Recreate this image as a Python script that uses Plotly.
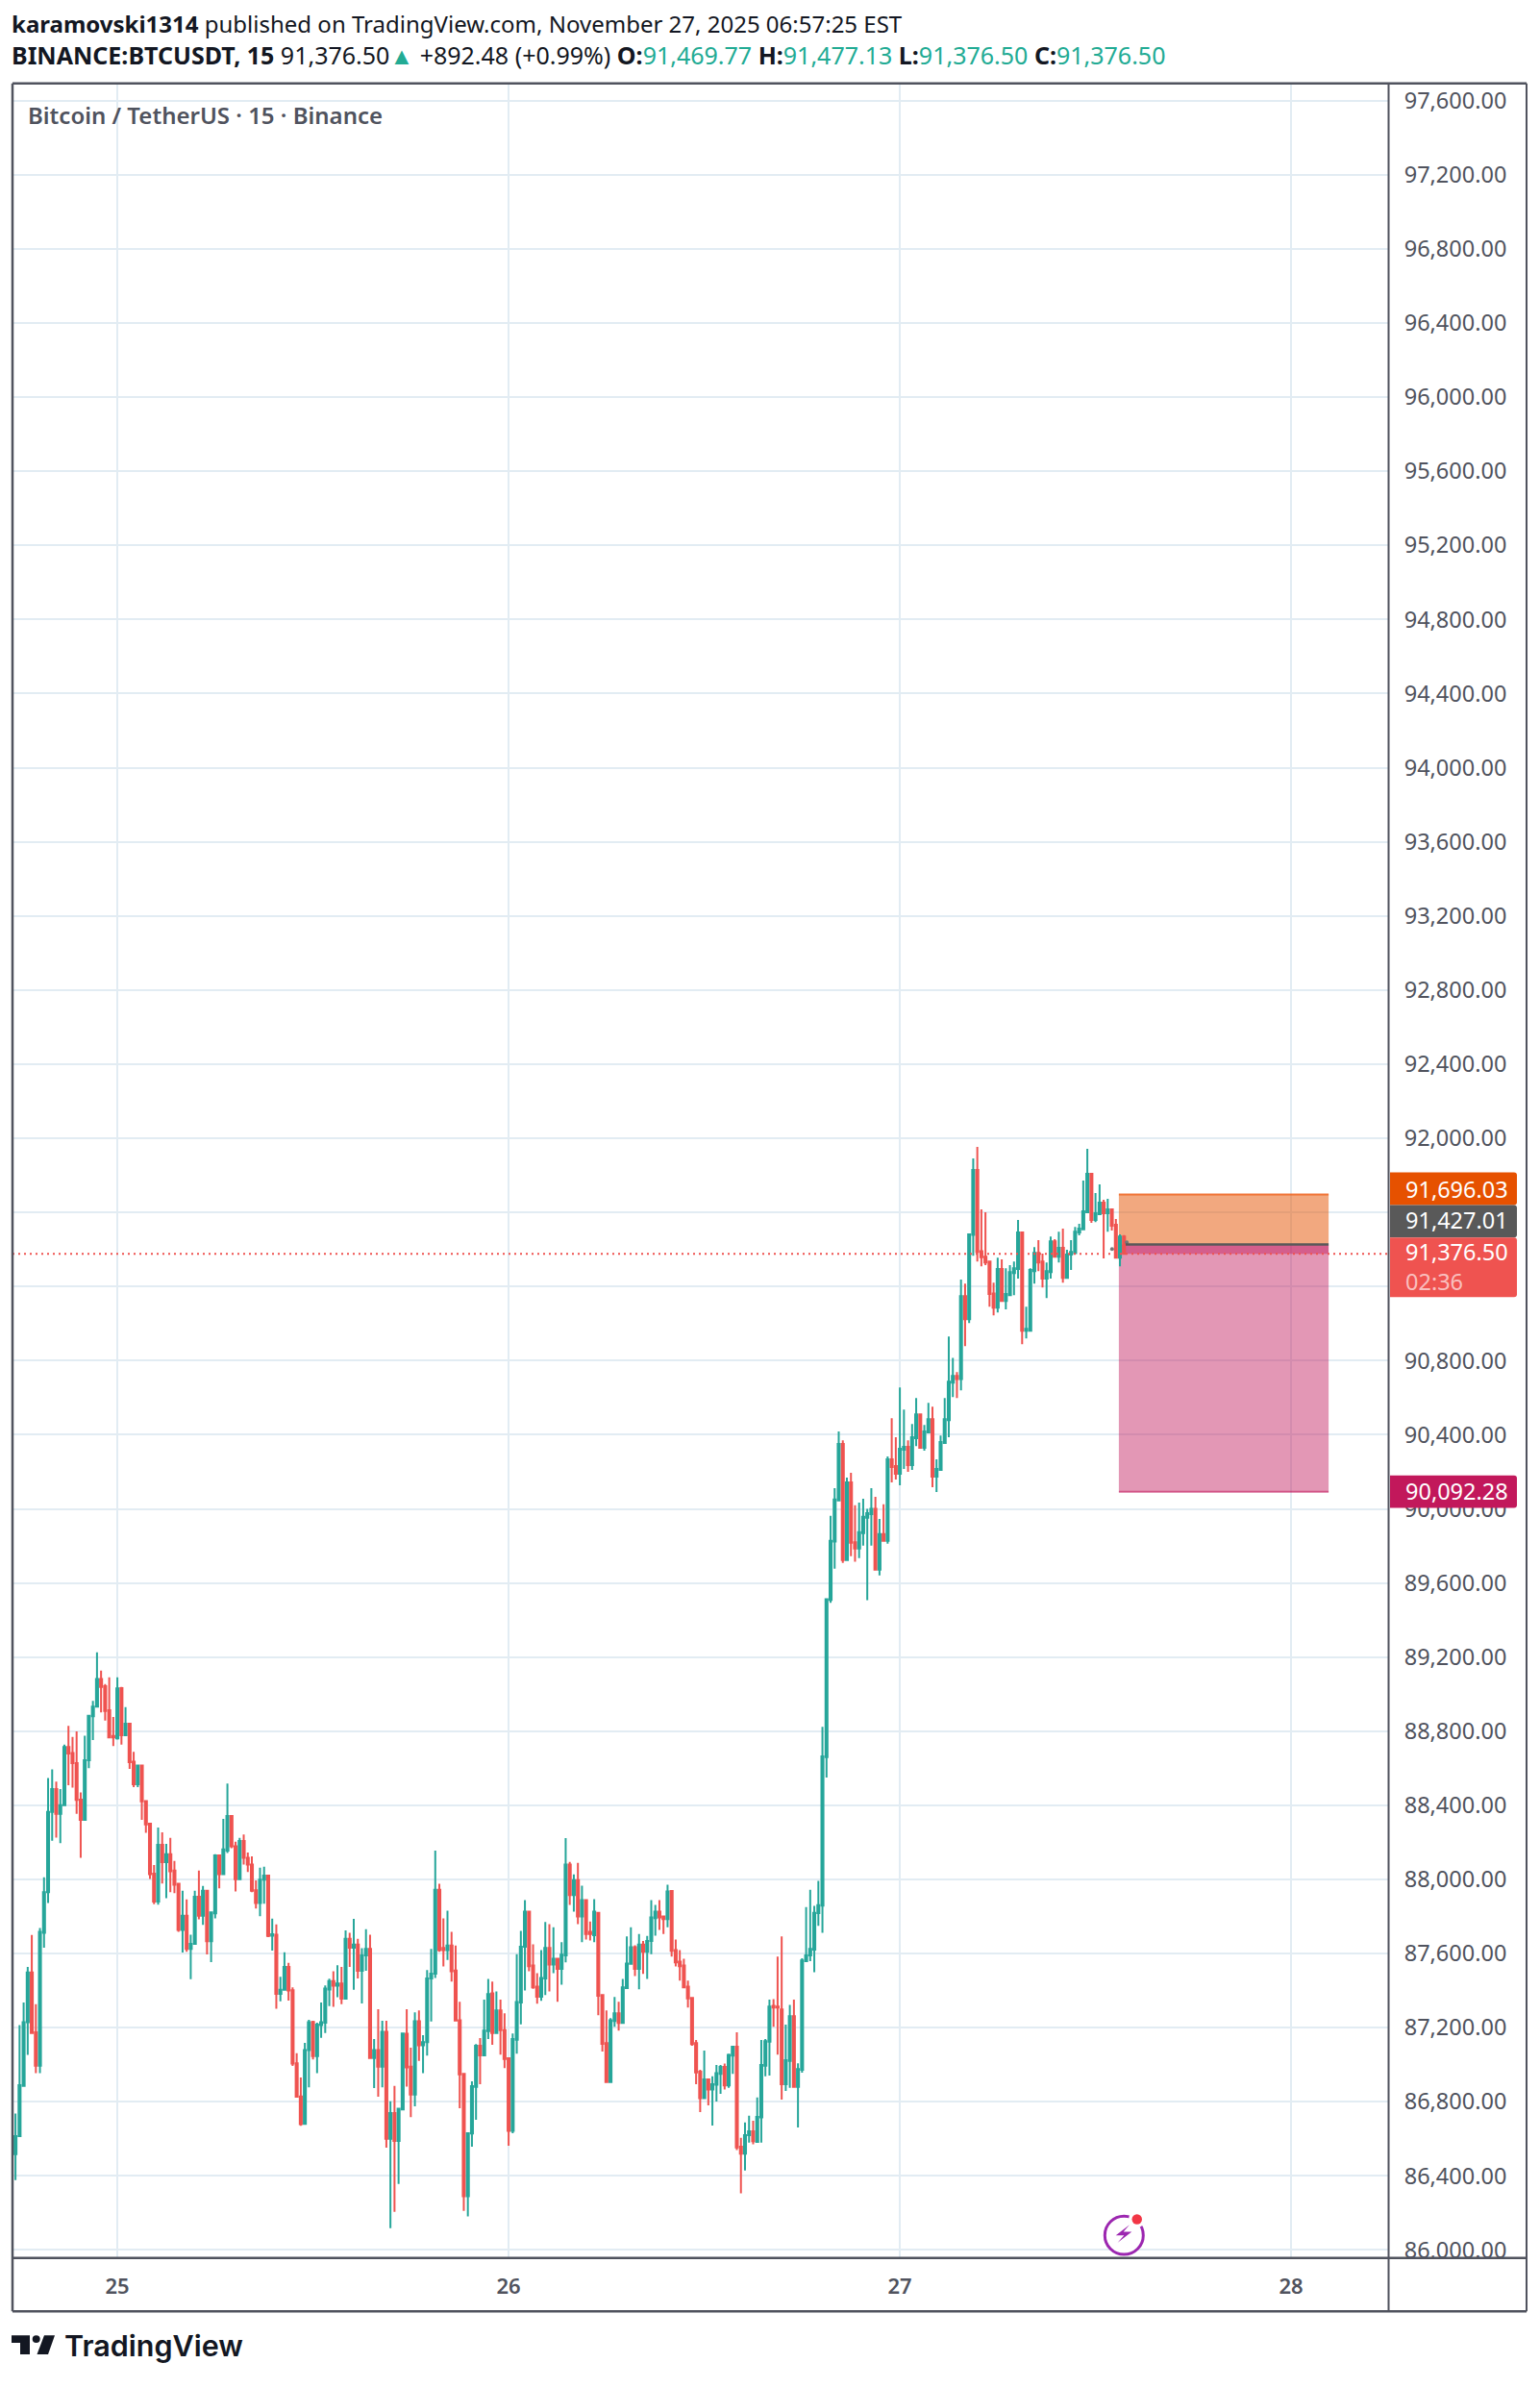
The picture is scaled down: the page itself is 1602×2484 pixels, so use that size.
import pandas as pd
import plotly.graph_objects as go

WIDTH = 1602
HEIGHT = 2484

opens = [
    86518, 86615, 86886, 87229, 87498, 87175, 86995, 87712, 87931, 88365,
    88487, 88354, 88401, 88714, 88682, 88628, 88431, 88322, 88643, 88881,
    88932, 89082, 89043, 88913, 88774, 88761, 89033, 88778, 88840, 88635,
    88513, 88615, 88423, 88301, 88031, 87881, 88187, 88093, 88136, 88048,
    87976, 87727, 87804, 87625, 87652, 87907, 87804, 87939, 87667, 87817,
    88130, 88029, 88155, 88342, 88179, 88001, 88207, 88117, 88080, 87941,
    87873, 87999, 88021, 87697, 87702, 87383, 87404, 87528, 87402, 87008,
    86829, 86681, 87079, 87231, 87047, 87214, 87227, 87406, 87451, 87426,
    87438, 87357, 87680, 87631, 87648, 87507, 87590, 87625, 87036, 87079,
    86989, 87177, 86600, 86739, 86589, 86758, 87167, 86989, 86839, 87235,
    87105, 87122, 87466,
    87492, 87944, 87630, 87619, 87643, 87508, 87240, 86951, 86291, 86629,
    86881, 87102, 87051, 87182, 87385, 87171, 87293, 87187, 87035, 86643,
    87135, 87336, 87637, 87826, 87536, 87421, 87367, 87465, 87630, 87541,
    87572, 87517, 87590, 88080, 87915, 87996, 87800, 87888, 87717, 87699,
    87820, 87376, 87117, 86906, 87236, 87278, 87225, 87414, 87545, 87634,
    87517, 87648, 87610, 87668, 87791, 87826, 87800, 87786, 87937, 87619,
    87556, 87536, 87421, 87360, 87117, 86962, 86819, 86921, 86866, 86892,
    86951, 86988, 86888, 87049, 87097, 86558, 86520, 86620, 86641, 86583,
    86716, 86995, 87124, 87318, 87314, 87298, 86895, 87020, 87262, 86881,
    86973, 87559, 87590, 87621, 87818, 87859, 88660,
    89508, 89824, 90046, 90350, 89724, 90143, 89820, 89786, 89869, 89952,
    89972, 90000, 89672, 89864, 89827, 90267, 90231, 90189, 90319, 90334,
    90236, 90381, 90510, 90329, 90412, 90484, 90174, 90210, 90355, 90479,
    90681, 90717, 90701, 91148, 91024, 91479, 91829, 91391, 91361, 91335,
    91162, 91086, 91294, 91122, 91153, 91273, 91294, 91491, 90961, 90961,
    91283, 91382, 91335, 91242, 91278, 91444, 91361, 91408, 91247, 91372,
    91380, 91491, 91509, 91600, 91808, 91559, 91590, 91652, 91595, 91616,
    91533, 91356, 91469.77,
]
highs = [
    86737, 87214, 87336, 87528, 87700, 87327, 87738, 88012, 88547, 88594,
    88528, 88487, 88727, 88829, 88769, 88799, 88470, 88776, 88883, 88964,
    89225, 89127, 89054, 89091, 88877, 89091, 89039, 88930, 88840, 88688,
    88615, 88615, 88423, 88301, 88078, 88280, 88254, 88192, 88224, 88100,
    87976, 87939, 87892, 87702, 87939, 88048, 87965, 87939, 87826, 88136,
    88130, 88327, 88517, 88342, 88203, 88224, 88243, 88145, 88125, 87995,
    88063, 88068, 88021, 87789, 87757, 87475, 87607, 87550, 87417, 87062,
    86931, 87118, 87242, 87237, 87227, 87336, 87428, 87464, 87505, 87537,
    87528, 87725, 87712, 87787, 87680, 87629, 87732, 87702, 87139, 87299,
    87237, 87237, 86803, 86886, 86762, 87169, 87299, 87092, 87282, 87293,
    87160, 87511, 87625,
    88156, 87976, 87790, 87831, 87717, 87643, 87340, 86951, 86630, 86910,
    87111, 87144, 87351, 87463, 87449, 87396, 87351, 87278, 87035, 87169,
    87597, 87722, 87888, 87826, 87650, 87494, 87619, 87770, 87759, 87742,
    87572, 87661, 88223, 88094, 88027, 88089, 87966, 87888, 87773, 87893,
    87820, 87376, 87293, 87251, 87365, 87340, 87463, 87692, 87742, 87644,
    87706, 87668, 87695, 87888, 87862, 87888, 87800, 87971, 87940, 87675,
    87619, 87572, 87454, 87360, 87133, 86973, 87077, 86924, 86937, 86999,
    86999, 87006, 87060, 87097, 87175, 86605, 86688, 86725, 86698, 86823,
    87133, 87138, 87351, 87354, 87583, 87692, 87216, 87323, 87351, 87008,
    87574, 87851, 87944, 87857, 87992, 88824, 89512,
    89962, 90112, 90417, 90370, 90169, 90195, 90019, 90034, 90055, 90000,
    90112, 90065, 89946, 90024, 90283, 90489, 90386, 90655, 90536, 90370,
    90458, 90598, 90515, 90453, 90572, 90551, 90267, 90396, 90598, 90930,
    90815, 90738, 91237, 91216, 91481, 91891, 91954, 91616, 91600, 91335,
    91221, 91356, 91346, 91299, 91315, 91335, 91559, 91491, 91091, 91299,
    91413, 91450, 91377, 91330, 91470, 91455, 91496, 91512, 91398, 91450,
    91522, 91538, 91772, 91943, 91808, 91704, 91751, 91668, 91673, 91621,
    91564, 91481, 91477.13,
]
lows = [
    86377, 86615, 86882, 87053, 87171, 86955, 86955, 87631, 87873, 88209,
    88226, 88196, 88401, 88508, 88496, 88354, 88117, 88322, 88600, 88752,
    88932, 88902, 88857, 88767, 88720, 88755, 88727, 88778, 88596, 88498,
    88498, 88322, 88252, 88003, 87866, 87864, 87978, 87899, 87931, 87926,
    87717, 87605, 87610, 87462, 87652, 87785, 87755, 87595, 87554, 87790,
    87952, 88023, 88143, 88168, 87935, 88001, 88080, 88040, 87931, 87843,
    87802, 87869, 87689, 87616, 87302, 87342, 87404, 87346, 86993, 86827,
    86670, 86681, 86878, 87028, 86955, 87145, 87171, 87316, 87312, 87364,
    87327, 87357, 87528, 87404, 87466, 87331, 87507, 87032, 86874, 86827,
    86878, 86553, 86118, 86206, 86356, 86758, 86882, 86717, 86775, 87021,
    86955, 87049, 87233,
    87468, 87610, 87530, 87566, 87449, 87238, 86765, 86211, 86181, 86558,
    86703, 86895, 87051, 87138, 87107, 87171, 87055, 86982, 86563, 86630,
    87060, 87218, 87401, 87505, 87410, 87329, 87345, 87376, 87396, 87494,
    87340, 87432, 87552, 87862, 87826, 87759, 87661, 87675, 87670, 87661,
    87267, 87071, 86906, 86906, 87205, 87184, 87220, 87414, 87545, 87479,
    87407, 87490, 87463, 87597, 87697, 87728, 87706, 87742, 87583, 87530,
    87454, 87418, 87309, 87102, 86895, 86745, 86819, 86781, 86672, 86801,
    86843, 86866, 86875, 86951, 86540, 86306, 86429, 86580, 86571, 86583,
    86580, 86937, 86941, 87205, 87055, 86812, 86859, 86875, 86881, 86661,
    86957, 87559, 87559, 87499, 87749, 87712, 88550,
    89493, 89677, 90046, 89708, 89719, 89745, 89714, 89734, 89802, 89507,
    89802, 89672, 89641, 89827, 89812, 90143, 90158, 90127, 90215, 90200,
    90210, 90339, 90329, 90314, 90407, 90117, 90091, 90210, 90350, 90386,
    90603, 90598, 90639, 90878, 91003, 91366, 91335, 91309, 91315, 91091,
    91044, 91060, 91122, 91076, 91153, 91153, 91242, 90888, 90920, 90961,
    91216, 91283, 91195, 91138, 91242, 91356, 91330, 91221, 91247, 91289,
    91380, 91476, 91509, 91600, 91543, 91548, 91590, 91351, 91496, 91502,
    91356, 91309, 91376.50,
]
closes = [
    86615, 86889, 87229, 87498, 87171, 86995, 87717, 87931, 88365, 88487,
    88354, 88401, 88714, 88680, 88628, 88429, 88322, 88643, 88883, 88932,
    89082, 89039, 88909, 88767, 88767, 89031, 88778, 88840, 88633, 88513,
    88615, 88421, 88297, 88029, 87881, 88187, 88093, 88136, 88044, 87971,
    87727, 87804, 87625, 87652, 87907, 87804, 87939, 87667, 87822, 88130,
    88029, 88162, 88342, 88179, 88001, 88207, 88117, 88080, 87939, 87873,
    87999, 88021, 87695, 87704, 87383, 87404, 87528, 87400, 87006, 86827,
    86679, 87079, 87229, 87047, 87216, 87229, 87411, 87451, 87426, 87438,
    87357, 87680, 87631, 87648, 87507, 87590, 87625, 87036, 87079, 86989,
    87177, 86600, 86739, 86589, 86762, 87169, 86985, 86839, 87235, 87105,
    87122, 87466, 87492,
    87944, 87619, 87619, 87643, 87505, 87238, 86948, 86291, 86630, 86884,
    87102, 87051, 87184, 87381, 87171, 87293, 87186, 87031, 86643, 87138,
    87338, 87637, 87826, 87532, 87418, 87367, 87468, 87630, 87541, 87572,
    87517, 87594, 88080, 87915, 87996, 87800, 87888, 87706, 87706, 87826,
    87372, 87113, 86906, 87240, 87278, 87225, 87418, 87546, 87634, 87517,
    87648, 87610, 87668, 87795, 87826, 87795, 87786, 87935, 87615, 87552,
    87532, 87418, 87358, 87111, 86959, 86819, 86921, 86866, 86895, 86955,
    86988, 86888, 87053, 87097, 86554, 86520, 86620, 86641, 86587, 86719,
    86999, 87127, 87314, 87309, 87309, 86895, 87024, 87262, 86881, 86977,
    87563, 87590, 87625, 87820, 87861, 88664, 89512,
    89827, 90050, 90350, 89724, 90143, 89817, 89786, 89874, 89957, 89977,
    90000, 89672, 89864, 89827, 90267, 90226, 90189, 90324, 90334, 90236,
    90386, 90510, 90329, 90417, 90484, 90174, 90215, 90360, 90484, 90686,
    90717, 90701, 91148, 91024, 91481, 91829, 91387, 91358, 91330, 91159,
    91086, 91294, 91122, 91159, 91278, 91299, 91491, 90961, 90972, 91289,
    91382, 91330, 91242, 91283, 91444, 91361, 91408, 91247, 91372, 91387,
    91496, 91512, 91606, 91808, 91559, 91595, 91652, 91595, 91616, 91528,
    91356, 91470, 91376.50,
]

price_ticks = list(range(86000, 97601, 400))
# these two sit fully behind the price tags in the original
hidden_ticks = [91200, 91600]
day_ticks = ["2025-11-25", "2025-11-26", "2025-11-27", "2025-11-28"]
day_labels = ["25", "26", "27", "28"]

stop_price = 91696.03
entry_price = 91427.01
target_price = 90092.28
last_price = 91376.50
position_start = "2025-11-27 13:26"
position_end = "2025-11-28 02:18"
entry_line_start = "2025-11-27 13:51"
tool_mark_times = ["2025-11-27 13:01", "2025-11-27 13:55"]
tool_mark_prices = [91402, 91438]

UP = "#26A69A"
DOWN = "#EF5350"
GRID = "#E2ECF3"
FRAME = "#50535E"
INK = "#131722"
FONT = "Noto Sans"


def px(x):
    return x / WIDTH


def py(y):
    return 1 - y / HEIGHT


times = pd.date_range("2025-11-24 17:45", periods=len(closes), freq="15min")

fig = go.Figure()
fig.add_trace(go.Candlestick(
    x=times, open=opens, high=highs, low=lows, close=closes,
    increasing=dict(line=dict(color=UP, width=2), fillcolor=UP),
    decreasing=dict(line=dict(color=DOWN, width=2), fillcolor=DOWN),
    whiskerwidth=0,
    showlegend=False,
))
fig.add_trace(go.Scatter(x=tool_mark_times, y=tool_mark_prices, mode="markers",
                         marker=dict(size=4, color="#777777"), showlegend=False))

# long/short position box, sits above the grid but under the candles
fig.add_shape(type="rect", x0=position_start, x1=position_end, y0=entry_price, y1=stop_price,
              fillcolor="rgba(230,81,0,0.5)", line_width=0, layer="between")
fig.add_shape(type="rect", x0=position_start, x1=position_end, y0=target_price, y1=entry_price,
              fillcolor="rgba(194,24,91,0.45)", line_width=0, layer="between")
fig.add_shape(type="rect", x0=position_start, x1=position_end, y0=last_price, y1=entry_price,
              fillcolor="rgba(194,24,91,0.45)", line_width=0, layer="between")
fig.add_shape(type="line", x0=position_start, x1=position_end, y0=stop_price, y1=stop_price,
              line=dict(color="rgba(240,100,30,0.85)", width=2), layer="between")
fig.add_shape(type="line", x0=position_start, x1=position_end, y0=target_price, y1=target_price,
              line=dict(color="rgba(194,24,91,0.6)", width=2), layer="between")
fig.add_shape(type="line", x0=entry_line_start, x1=position_end, y0=entry_price, y1=entry_price,
              line=dict(color="#595959", width=2.5), layer="above")
fig.add_shape(type="line", xref="paper", x0=px(13), x1=px(1444), y0=last_price, y1=last_price,
              line=dict(color=DOWN, width=2, dash="2px,4px"), layer="above")

# cover for the time axis strip and the frame
fig.add_shape(type="rect", xref="paper", yref="paper", x0=px(1446), x1=px(1587), y0=py(2411), y1=py(2356),
              fillcolor="white", line_width=0, layer="above")
frame_lines = [
    (13, 87, 1588, 87, 2.5), (13, 87, 13, 2411, 2.5), (1588, 87, 1588, 2411, 2),
    (1444.5, 87, 1444.5, 2411, 2), (13, 2355.5, 1588, 2355.5, 2.5), (13, 2411, 1588, 2411, 2.5),
]
for x0, y0, x1, y1, w in frame_lines:
    fig.add_shape(type="line", xref="paper", yref="paper", x0=px(x0), y0=py(y0), x1=px(x1), y1=py(y1),
                  line=dict(color=FRAME, width=w), layer="above")


def add_tag(y0, y1, color):
    x0, x1, r = 1446, 1578, 3
    path = (f"M {px(x0)} {py(y0)} L {px(x1 - r)} {py(y0)} Q {px(x1)} {py(y0)} {px(x1)} {py(y0 + r)} "
            f"L {px(x1)} {py(y1 - r)} Q {px(x1)} {py(y1)} {px(x1 - r)} {py(y1)} L {px(x0)} {py(y1)} Z")
    fig.add_shape(type="path", xref="paper", yref="paper", path=path, fillcolor=color, line_width=0, layer="above")


add_tag(1223, 1257, "#E65100")
add_tag(1257, 1291, "#595959")
add_tag(1291, 1353, DOWN)
add_tag(1539, 1573, "#C2185B")


def add_text(x, y, text, size, color, weight=None, font=FONT):
    # plotly pads annotations by about 3px on the left
    fig.add_annotation(xref="paper", yref="paper", x=px(x - 3), y=py(y), xanchor="left", yanchor="middle",
                       text=text, showarrow=False, align="left",
                       font=dict(family=font, size=size, color=color, weight=weight))


add_text(1463, 1240, f"{stop_price:,.2f}", 23.5, "white")
add_text(1463, 1273, f"{entry_price:,.2f}", 23.5, "white")
add_text(1463, 1321, f'{last_price:,.2f}<br><span style="color:rgba(255,255,255,0.65)">02:36</span>', 23.5, "white")
add_text(1463, 1555, f"{target_price:,.2f}", 23.5, "white")

add_text(13, 25, '<b>karamovski1314</b> published on TradingView.com, November 27, 2025 06:57:25 EST', 24, INK)
green = "#22AB94"
add_text(13, 57, ('<b>BINANCE:BTCUSDT, 15</b> 91,376.50'
                  f'<span style="color:{green}">▲</span> +892.48 (+0.99%) '
                  f'<b>O:</b><span style="color:{green}">91,469.77</span> '
                  f'<b>H:</b><span style="color:{green}">91,477.13</span> '
                  f'<b>L:</b><span style="color:{green}">91,376.50</span> '
                  f'<b>C:</b><span style="color:{green}">91,376.50</span>'), 25, INK)
add_text(30, 120, "Bitcoin / TetherUS · 15 · Binance", 24, FRAME, weight=600)
add_text(68, 2446, "TradingView", 30.5, INK, weight=600, font="Inter")

# TradingView logo
logo_t = [(12, 2436), (31, 2436), (31, 2456), (21, 2456), (21, 2444), (12, 2444)]
logo_slash = [(46, 2436), (57, 2436), (50, 2456), (38.5, 2456)]
for pts in (logo_t, logo_slash):
    path = "M " + " L ".join(f"{px(a)} {py(b)}" for a, b in pts) + " Z"
    fig.add_shape(type="path", xref="paper", yref="paper", path=path, fillcolor=INK, line_width=0, layer="above")
fig.add_shape(type="circle", xref="paper", yref="paper", x0=px(33.7), x1=px(41.7), y0=py(2444), y1=py(2436),
              fillcolor=INK, line_width=0, layer="above")

# lightning badge near the bottom
fig.add_shape(type="circle", xref="paper", yref="paper", x0=px(1149.3), x1=px(1189.3), y0=py(2351.7), y1=py(2311.7),
              fillcolor="white", line=dict(color="#9C27B0", width=3), layer="above")
bolt = [(1175, 2320.7), (1160.7, 2331.7), (1169.3, 2331.7), (1162.7, 2339.3), (1177.3, 2328), (1168.7, 2328)]
fig.add_shape(type="path", xref="paper", yref="paper",
              path="M " + " L ".join(f"{px(a)} {py(b)}" for a, b in bolt) + " Z",
              fillcolor="#9C27B0", line_width=0, layer="above")
fig.add_shape(type="circle", xref="paper", yref="paper", x0=px(1174), x1=px(1191.4), y0=py(2323.7), y1=py(2306.3),
              fillcolor="white", line_width=0, layer="above")
fig.add_shape(type="circle", xref="paper", yref="paper", x0=px(1177.5), x1=px(1188), y0=py(2320.2), y1=py(2309.8),
              fillcolor="#F23645", line_width=0, layer="above")

fig.update_layout(
    width=WIDTH, height=HEIGHT,
    margin=dict(l=0, r=0, t=0, b=0),
    paper_bgcolor="white", plot_bgcolor="white",
    showlegend=False,
    font=dict(family=FONT, color=FRAME),
    xaxis=dict(
        domain=[px(13), px(1444)],
        range=["2025-11-24 17:34", "2025-11-28 05:57"],
        rangeslider=dict(visible=False),
        tickmode="array", tickvals=day_ticks, ticktext=day_labels,
        tickfont=dict(size=22, color=FRAME, weight=600),
        ticks="outside", ticklen=10, tickcolor="rgba(0,0,0,0)",
        showgrid=True, gridcolor=GRID, gridwidth=2,
        showline=False, zeroline=False,
    ),
    yaxis=dict(
        domain=[py(2355), py(87)],
        range=[85959, 97693],
        side="right",
        tickmode="array", tickvals=price_ticks,
        ticktext=["" if p in hidden_ticks else f"{p:,.2f}" for p in price_ticks],
        tickfont=dict(size=23.5, color=FRAME),
        ticks="outside", ticklen=11, tickcolor="rgba(0,0,0,0)",
        showgrid=True, gridcolor=GRID, gridwidth=2,
        showline=False, zeroline=False,
    ),
)

fig.write_html("out.html", config={"displayModeBar": False},
               post_script="document.body.style.margin='0';")
